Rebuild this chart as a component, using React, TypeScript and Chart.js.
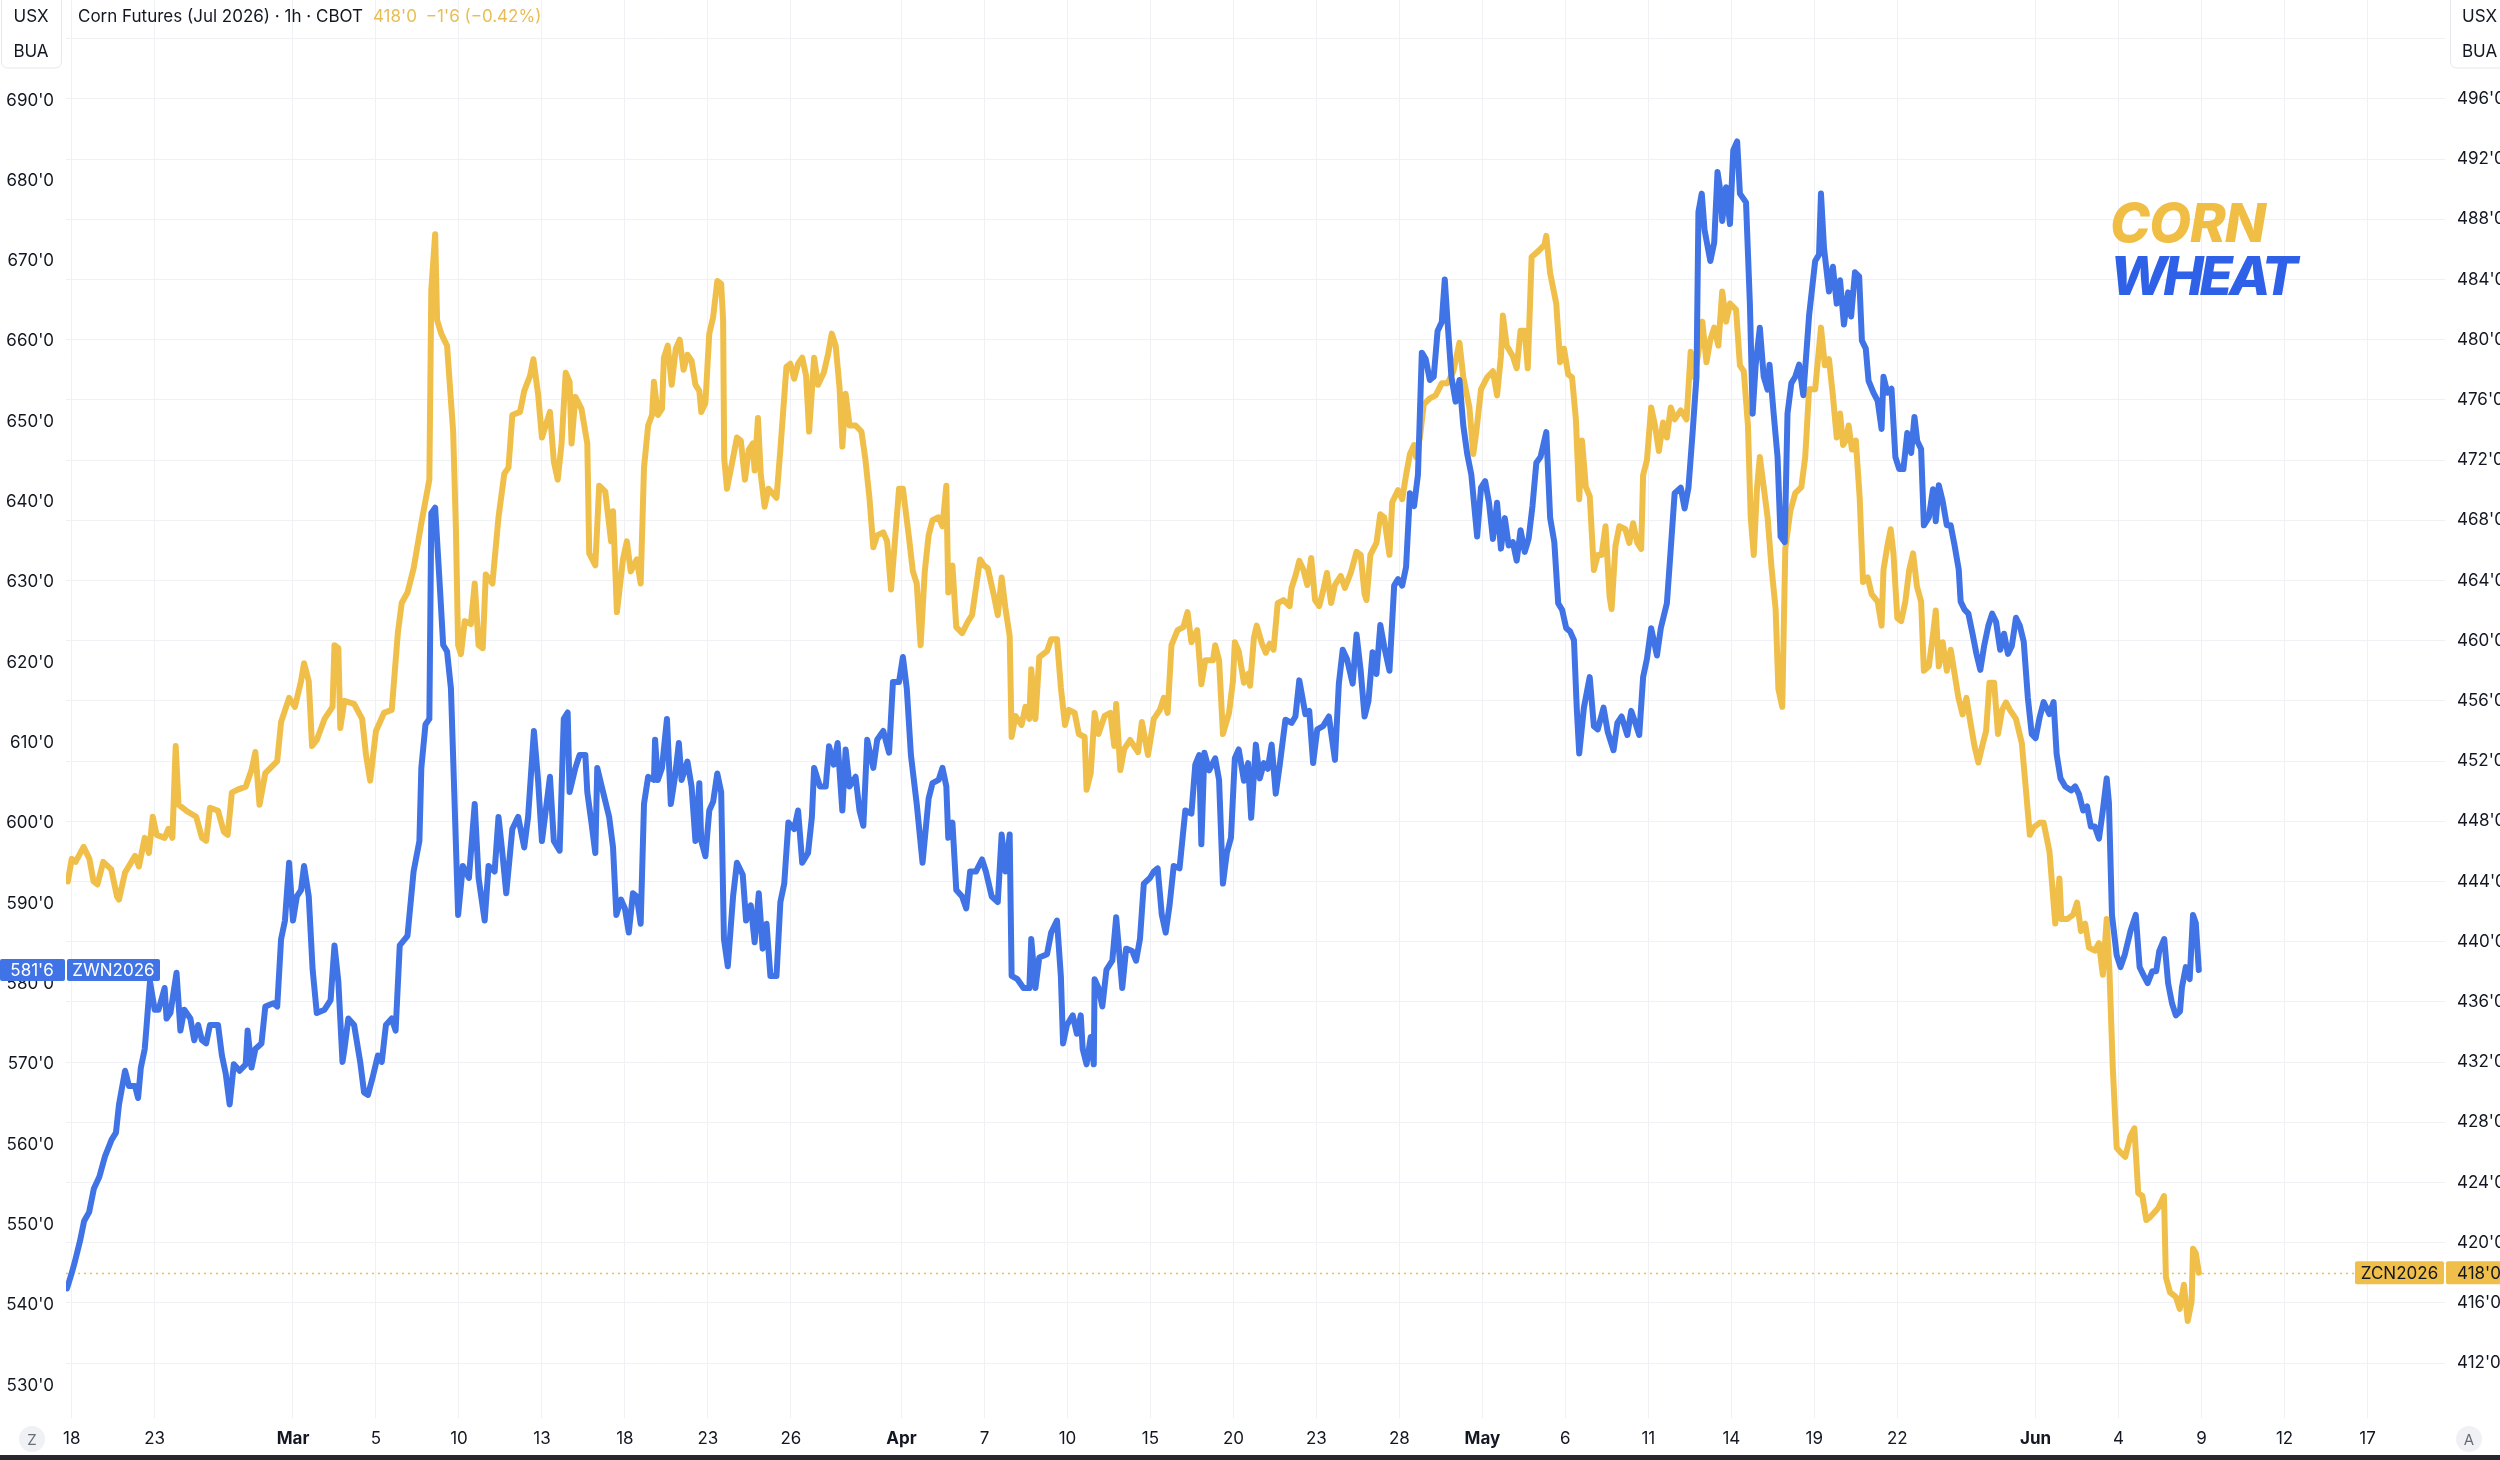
import React, { useEffect, useRef } from "react";
import { Chart, registerables } from "chart.js";

Chart.register(...registerables);

// ---------- DATA ----------
// x = trading-day index (Feb 18 2026 = 0, holidays/weekends removed)
const xTickDays = [0, 3, 8, 11, 14, 17, 20, 23, 26, 30, 33, 36, 39, 42, 45, 48, 51, 54, 57, 60, 63, 66, 71, 74, 77, 80, 83];
const xTickLabels = ["18", "23", "Mar", "5", "10", "13", "18", "23", "26", "Apr", "7", "10", "15", "20", "23", "28", "May", "6", "11", "14", "19", "22", "Jun", "4", "9", "12", "17"];
const monthTickDays = [8, 30, 51, 71];

const wheatTicks = [530, 540, 550, 560, 570, 580, 590, 600, 610, 620, 630, 640, 650, 660, 670, 680, 690, 700];
const cornTicks = [412, 416, 420, 424, 428, 432, 436, 440, 444, 448, 452, 456, 460, 464, 468, 472, 476, 480, 484, 488, 492, 496, 500];

const wheatDays = [
  -0.17, 0.0, 0.12, 0.3, 0.45, 0.63, 0.8, 1.0, 1.2, 1.44, 1.6,
  1.71, 1.93, 2.07, 2.29, 2.4, 2.5, 2.64, 2.71, 2.83, 3.0, 3.14, 3.36, 3.43, 3.57, 3.79, 3.93, 4.07, 4.29, 4.43, 4.57, 4.71, 4.86, 5.0, 5.29, 5.43, 5.57, 5.71, 5.86, 6.07, 6.29, 6.36, 6.5, 6.64, 6.86, 7.0, 7.29, 7.43, 7.57, 7.71, 7.86, 8.0, 8.14, 8.29, 8.4, 8.57, 8.71, 8.86, 9.14, 9.36, 9.5, 9.64, 9.79, 9.86, 10.0, 10.21, 10.43, 10.57, 10.71, 10.86, 11.07, 11.21, 11.36, 11.57, 11.71, 11.86, 12.14, 12.36, 12.57, 12.64, 12.79, 12.93, 13.0, 13.14, 13.29, 13.43, 13.57, 13.71, 13.83, 13.97, 14.14, 14.36, 14.57, 14.71, 14.93, 15.07, 15.29, 15.43, 15.57, 15.71, 15.93, 16.14, 16.36, 16.5, 16.71, 16.86, 17.0, 17.29, 17.43, 17.64, 17.79, 17.93, 18.0, 18.21, 18.36, 18.57, 18.64, 18.79, 18.93, 19.0, 19.21, 19.43, 19.57, 19.69, 19.86, 20.0, 20.14, 20.29, 20.43, 20.57,
  20.69, 20.84, 21.05, 21.09, 21.19, 21.34, 21.52, 21.66, 21.81, 21.95, 22.05, 22.26, 22.41, 22.55, 22.69, 22.76, 22.91, 23.05, 23.19, 23.34, 23.48, 23.58, 23.72, 23.91, 24.05, 24.26, 24.38, 24.55, 24.69, 24.84, 24.98, 25.12, 25.26, 25.48, 25.62, 25.76, 25.91, 26.12, 26.26, 26.41, 26.62, 26.76, 26.84, 27.05, 27.26, 27.38, 27.55, 27.69, 27.86, 27.98, 28.12, 28.34, 28.48, 28.62, 28.76, 28.98, 29.12, 29.34, 29.55, 29.69, 29.91, 30.05, 30.19, 30.34, 30.55, 30.76, 30.98, 31.12, 31.34, 31.48, 31.62, 31.69, 31.84, 31.98, 32.19, 32.34, 32.48, 32.69, 32.91, 33.05, 33.26, 33.48, 33.62, 33.76, 33.91, 33.98, 34.19, 34.41, 34.62, 34.69, 34.84, 34.98, 35.26, 35.41, 35.62, 35.76, 35.84, 35.98, 36.19, 36.34, 36.48, 36.55, 36.69, 36.84, 36.95, 36.98, 37.12, 37.26, 37.41, 37.62, 37.76, 37.98, 38.12, 38.34, 38.48, 38.62, 38.76, 38.98, 39.12, 39.26, 39.41, 39.55, 39.69, 39.84, 40.05, 40.26, 40.48, 40.62, 40.76, 40.84, 40.95, 41.12, 41.34, 41.48, 41.62, 41.76, 41.91, 42.05, 42.19,
  42.38, 42.53, 42.64, 42.81, 42.95, 43.1, 43.24, 43.38, 43.53, 43.67, 43.88, 44.1, 44.24, 44.38, 44.6, 44.74, 44.88, 45.03, 45.24, 45.45, 45.67, 45.81, 45.95, 46.1, 46.31, 46.45, 46.6, 46.74, 46.88, 47.03, 47.17, 47.31, 47.45, 47.64, 47.81, 47.95, 48.1, 48.24, 48.38, 48.53, 48.67, 48.81, 48.95, 49.1, 49.24, 49.38, 49.53, 49.64, 49.74, 49.88, 50.03, 50.17, 50.31, 50.45, 50.6, 50.81, 50.95, 51.1, 51.24, 51.38, 51.53, 51.67, 51.81, 51.95, 52.1, 52.24, 52.38, 52.53, 52.67, 52.81, 52.95, 53.1, 53.31, 53.45, 53.6, 53.74, 53.88, 54.03, 54.17, 54.31, 54.41, 54.5, 54.67, 54.88, 55.03, 55.17, 55.38, 55.53, 55.74, 55.88, 56.03, 56.24, 56.38, 56.53, 56.67, 56.81, 56.95, 57.1, 57.31, 57.45, 57.67, 57.81, 57.95, 58.17, 58.31, 58.45, 58.6, 58.74, 58.81, 58.93, 59.03, 59.24, 59.38, 59.5, 59.6, 59.67, 59.81, 59.95, 60.07, 60.21, 60.31, 60.53, 60.67, 60.77, 60.88, 61.03, 61.17, 61.31, 61.38, 61.53, 61.67, 61.78, 61.93, 62.03, 62.17, 62.31, 62.45, 62.6, 62.81, 63.03, 63.17, 63.24, 63.35, 63.53, 63.67, 63.81,
  63.93, 64.07, 64.22, 64.33, 64.47, 64.62, 64.72, 64.86, 64.96, 65.14, 65.29, 65.43, 65.5, 65.64, 65.79, 65.93, 66.07, 66.22, 66.36, 66.5, 66.62, 66.72, 66.86, 66.96, 67.14, 67.29, 67.39, 67.5, 67.64, 67.79, 67.93, 68.07, 68.22, 68.29, 68.43, 68.57, 68.72, 68.86, 69.0, 69.14, 69.29, 69.43, 69.57, 69.72, 69.86, 70.0, 70.14, 70.29, 70.43, 70.57, 70.72, 70.86, 71.0, 71.14, 71.29, 71.5, 71.65, 71.76, 71.9, 72.07, 72.29, 72.43, 72.57, 72.72, 72.86, 73.0, 73.14, 73.29, 73.43, 73.57, 73.65, 73.76, 73.93, 74.07, 74.22, 74.43, 74.62, 74.76, 74.9, 75.05, 75.22, 75.36, 75.47, 75.65, 75.79, 75.93, 76.07, 76.22, 76.29, 76.43, 76.57, 76.69, 76.79, 76.9,
];
const wheatPrices = [
  542.1, 544.0, 545.5, 548.0, 550.5, 551.6, 554.5, 556.0, 558.5, 560.6, 561.5,
  565.0, 569.2, 567.3, 567.3, 565.8, 569.6, 571.9, 574.9, 580.3, 576.8, 576.8, 579.5, 575.7, 576.4, 581.4, 574.2, 576.8, 575.7, 573.0, 574.9, 573.0, 572.6, 574.9, 574.9, 571.1, 568.8, 565.0, 570.0, 569.2, 570.0, 574.2, 569.6, 571.9, 572.6, 577.2, 577.6, 577.2, 585.6, 587.9, 595.1, 587.9, 590.9, 591.7, 594.7, 590.9, 581.8, 576.4, 576.8, 578.0, 584.8, 580.3, 570.3, 571.9, 575.7, 574.9, 570.3, 566.5, 566.2, 568.1, 571.1, 570.3, 574.9, 575.7, 574.2, 584.8, 586.0, 594.0, 597.8, 606.9, 612.3, 613.0, 638.6, 639.3, 630.6, 622.2, 621.4, 616.8, 603.9, 588.6, 594.7, 593.2, 602.4, 593.2, 587.9, 594.7, 594.0, 600.8, 596.3, 591.3, 599.3, 600.8, 597.0, 600.8, 611.5, 605.4, 597.8, 605.8, 597.8, 596.6, 613.0, 613.8, 603.9, 606.9, 608.5, 608.5, 603.9, 600.1, 596.3, 606.9, 603.9, 600.8, 597.0, 588.6, 590.5, 589.4, 586.4, 591.3, 590.9, 587.5,
  602.4, 605.8, 605.4, 610.4, 605.4, 606.9, 613.0, 602.4, 605.8, 610.0, 605.4, 607.7, 604.6, 597.8, 605.0, 597.8, 595.9, 601.6, 602.7, 606.2, 603.9, 585.6, 582.2, 590.9, 595.1, 593.6, 587.9, 589.8, 585.2, 591.3, 584.4, 587.5, 581.0, 581.0, 590.2, 592.5, 600.1, 599.3, 601.6, 595.1, 596.3, 600.8, 606.9, 604.6, 604.6, 609.6, 607.3, 610.0, 601.6, 609.2, 604.6, 605.8, 601.6, 599.7, 610.4, 606.9, 610.4, 611.5, 608.8, 617.6, 617.6, 620.7, 616.8, 608.5, 602.4, 595.1, 603.1, 605.0, 605.4, 606.9, 604.6, 598.2, 600.1, 591.7, 590.9, 589.4, 594.0, 594.0, 595.5, 594.0, 590.9, 590.2, 598.6, 594.0, 598.6, 581.0, 580.6, 579.5, 579.5, 585.6, 579.5, 583.3, 583.7, 586.4, 587.9, 581.0, 572.6, 574.9, 576.1, 573.8, 576.1, 571.9, 570.0, 573.4, 570.0, 580.6, 579.5, 577.2, 581.8, 582.9, 588.3, 579.5, 584.4, 584.1, 582.9, 585.6, 592.5, 593.2, 594.0, 594.4, 588.6, 586.4, 589.8, 594.7, 594.4, 601.6, 601.2, 607.3, 608.5, 597.4, 608.8, 606.6, 608.1, 605.4, 592.5, 596.3, 598.2, 608.1, 609.2,
  605.3, 607.5, 600.7, 609.8, 605.6, 607.5, 606.8, 609.8, 603.7, 607.2, 612.9, 612.5, 613.3, 617.8, 613.6, 614.0, 607.5, 611.7, 612.1, 613.3, 607.9, 617.4, 621.6, 620.5, 617.4, 623.5, 619.0, 613.3, 615.2, 621.3, 618.6, 624.7, 622.0, 619.0, 629.6, 630.4, 629.6, 631.9, 641.1, 639.5, 643.4, 658.6, 657.8, 655.2, 655.6, 661.3, 662.4, 667.7, 662.4, 655.6, 652.5, 655.2, 649.5, 646.0, 643.4, 635.7, 641.8, 642.6, 639.9, 635.4, 639.9, 634.2, 638.0, 634.6, 635.0, 632.7, 636.5, 633.8, 635.4, 639.5, 644.9, 645.6, 648.7, 638.0, 635.0, 627.4, 626.6, 624.3, 623.9, 622.8, 614.4, 608.7, 614.4, 618.2, 612.1, 611.7, 614.4, 611.4, 609.1, 612.5, 613.3, 611.0, 614.0, 612.5, 611.0, 618.2, 620.5, 624.3, 620.9, 624.3, 627.4, 634.2, 641.1, 641.8, 639.2, 641.8, 648.7, 655.6, 676.1, 678.4, 673.9, 670.0, 672.3, 681.1, 678.8, 675.0, 679.2, 674.6, 683.8, 684.9, 678.4, 677.3, 664.7, 651.0, 657.1, 661.7, 655.6, 654.0, 657.1, 651.0, 645.6, 635.7, 635.0, 651.0, 654.8, 655.6, 657.1, 653.3, 663.2, 670.0, 670.8, 678.4, 671.6, 666.2, 669.3, 664.7,
  667.6, 662.1, 666.1, 663.1, 668.6, 668.1, 660.1, 659.1, 655.1, 653.6, 652.6, 649.1, 655.6, 653.6, 654.1, 645.6, 644.1, 644.1, 648.6, 646.1, 650.6, 647.6, 646.6, 637.1, 638.1, 641.6, 637.6, 642.1, 640.1, 637.1, 637.1, 634.6, 631.6, 627.6, 626.6, 626.1, 623.6, 621.1, 619.1, 622.1, 624.6, 626.1, 625.1, 621.6, 623.6, 621.1, 622.1, 625.6, 624.6, 622.6, 615.6, 611.1, 610.6, 613.1, 615.1, 613.6, 615.1, 608.6, 605.6, 604.6, 604.1, 604.6, 603.6, 601.6, 602.1, 599.6, 599.6, 598.1, 601.6, 605.6, 602.6, 588.6, 583.6, 582.1, 583.6, 586.6, 588.6, 582.1, 581.1, 580.1, 581.6, 581.6, 584.1, 585.6, 580.1, 577.6, 576.1, 576.6, 579.6, 582.1, 580.6, 588.6, 587.6, 581.75,
];

const cornDays = [
  -0.14, 0.0, 0.14, 0.43, 0.64, 0.79, 0.93, 1.14, 1.43, 1.64, 1.71, 1.93, 2.29, 2.43, 2.64, 2.79, 2.93, 3.07, 3.36, 3.5, 3.64, 3.76, 3.86, 4.14, 4.5, 4.71, 4.86, 5.0, 5.29, 5.5, 5.64, 5.79, 6.0, 6.29, 6.5, 6.64, 6.79, 7.0, 7.43, 7.57, 7.86, 8.07, 8.29, 8.4, 8.57, 8.69, 8.86, 9.14, 9.43, 9.5, 9.64, 9.71, 9.86, 10.21, 10.5, 10.64, 10.79, 11.0, 11.29, 11.57, 11.79, 11.93, 12.14, 12.36, 12.64, 12.93, 13.0, 13.14, 13.21, 13.36, 13.57, 13.79, 13.89, 13.97, 14.07, 14.21, 14.43, 14.57, 14.71, 14.86, 14.97, 15.21, 15.43, 15.64, 15.79, 15.93, 16.21, 16.36, 16.57, 16.69, 16.86, 17.0, 17.29, 17.43, 17.57, 17.71, 17.86, 18.0, 18.07, 18.21, 18.43, 18.64, 18.71, 18.93, 19.07, 19.29, 19.5, 19.57, 19.71, 19.93, 20.07, 20.21, 20.43, 20.57,
  20.69, 20.84, 20.98, 21.05, 21.19, 21.34, 21.41, 21.55, 21.69, 21.84, 21.98, 22.12, 22.26, 22.41, 22.55, 22.69, 22.76, 22.91, 23.05, 23.19, 23.34, 23.48, 23.55, 23.59, 23.69, 23.84, 24.05, 24.19, 24.34, 24.48, 24.62, 24.69, 24.81, 24.91, 25.05, 25.19, 25.48, 25.62, 25.84, 25.98, 26.12, 26.26, 26.41, 26.55, 26.66, 26.84, 26.98, 27.19, 27.34, 27.48, 27.62, 27.76, 27.86, 27.98, 28.12, 28.34, 28.55, 28.69, 28.84, 28.98, 29.12, 29.34, 29.48, 29.62, 29.76, 29.91, 30.05, 30.26, 30.41, 30.55, 30.69, 30.84, 30.98, 31.12, 31.34, 31.48, 31.62, 31.69, 31.84, 31.98, 32.19, 32.41, 32.55, 32.84, 32.98, 33.12, 33.34, 33.48, 33.62, 33.76, 33.91, 33.98, 34.12, 34.34, 34.48, 34.62, 34.69, 34.84, 34.98, 35.26, 35.41, 35.62, 35.76, 35.91, 36.05, 36.26, 36.41, 36.62, 36.69, 36.84, 36.98, 37.12, 37.34, 37.55, 37.69, 37.76, 37.91, 38.05, 38.26, 38.55, 38.69, 38.91, 39.12, 39.34, 39.48, 39.62, 39.76, 39.98, 40.19, 40.34, 40.48, 40.69, 40.84, 40.98, 41.26, 41.34, 41.48, 41.62, 41.84, 41.98, 42.05, 42.19,
  42.38, 42.53, 42.6, 42.74, 42.84, 43.03, 43.17, 43.31, 43.45, 43.6, 43.81, 44.03, 44.1, 44.24, 44.38, 44.53, 44.67, 44.81, 44.95, 45.1, 45.24, 45.38, 45.53, 45.67, 45.88, 46.03, 46.24, 46.45, 46.6, 46.74, 46.81, 46.95, 47.17, 47.31, 47.45, 47.64, 47.74, 47.95, 48.1, 48.24, 48.38, 48.53, 48.6, 48.74, 48.88, 49.1, 49.31, 49.53, 49.74, 49.95, 50.17, 50.31, 50.53, 50.67, 50.78, 50.95, 51.17, 51.38, 51.53, 51.67, 51.74, 51.88, 52.1, 52.24, 52.38, 52.53, 52.64, 52.78, 53.03, 53.24, 53.31, 53.45, 53.67, 53.81, 53.95, 54.1, 54.24, 54.38, 54.5, 54.6, 54.74, 54.88, 55.03, 55.17, 55.31, 55.45, 55.6, 55.67, 55.81, 55.95, 56.17, 56.31, 56.45, 56.6, 56.74, 56.81, 56.95, 57.1, 57.24, 57.38, 57.53, 57.67, 57.81, 57.95, 58.17, 58.38, 58.53, 58.67, 58.81, 58.95, 59.1, 59.24, 59.38, 59.53, 59.67, 59.81, 59.95, 60.17, 60.31, 60.45, 60.6, 60.7, 60.81, 60.93, 61.03, 61.17, 61.31, 61.45, 61.6, 61.7, 61.84, 61.95, 62.13, 62.31, 62.53, 62.67, 62.81, 63.03, 63.24, 63.38, 63.53, 63.67, 63.81,
  63.93, 64.04, 64.14, 64.24, 64.36, 64.5, 64.64, 64.76, 64.93, 65.07, 65.29, 65.43, 65.5, 65.64, 65.76, 65.86, 66.0, 66.14, 66.29, 66.43, 66.57, 66.71, 66.86, 66.96, 67.14, 67.29, 67.39, 67.5, 67.64, 67.79, 67.93, 68.07, 68.21, 68.36, 68.5, 68.64, 68.79, 68.93, 69.07, 69.21, 69.33, 69.5, 69.64, 69.79, 69.93, 70.07, 70.29, 70.5, 70.64, 70.79, 70.93, 71.14, 71.29, 71.5, 71.71, 71.86, 71.93, 72.14, 72.36, 72.5, 72.64, 72.79, 72.93, 73.14, 73.29, 73.43, 73.57, 73.67, 73.79, 73.93, 74.07, 74.24, 74.43, 74.57, 74.71, 74.86, 75.0, 75.14, 75.29, 75.43, 75.64, 75.71, 75.86, 76.07, 76.21, 76.36, 76.5, 76.64, 76.69, 76.79, 76.9,
];
const cornPrices = [
  444.0, 445.5, 445.3, 446.3, 445.5, 444.0, 443.8, 445.3, 444.8, 443.0, 442.8, 444.6, 445.7, 445.0, 446.9, 445.9, 448.3, 447.1, 446.9, 447.5, 446.9, 453.0, 449.1, 448.7, 448.3, 446.9, 446.7, 448.9, 448.7, 447.3, 447.1, 449.9, 450.1, 450.3, 451.4, 452.6, 449.1, 451.2, 452.0, 454.6, 456.2, 455.6, 457.3, 458.5, 457.3, 453.0, 453.4, 454.8, 455.6, 459.7, 459.5, 454.2, 456.0, 455.8, 454.8, 452.4, 450.7, 454.0, 455.2, 455.4, 460.5, 462.5, 463.2, 464.8, 467.8, 470.7, 483.3, 487.0, 481.3, 480.4, 479.6, 473.9, 467.4, 459.7, 459.1, 461.3, 461.1, 463.8, 459.7, 459.5, 464.4, 463.8, 468.2, 471.1, 471.5, 475.0, 475.2, 476.6, 477.6, 478.7, 476.4, 473.5, 475.2, 471.9, 470.7, 473.1, 477.8, 477.2, 473.1, 476.2, 475.4, 473.1, 465.8, 465.0, 470.3, 469.9, 466.6, 468.6, 461.9, 465.4, 466.6, 464.6, 465.4, 463.8,
  471.5, 474.3, 475.0, 477.2, 475.0, 475.4, 478.8, 479.6, 477.0, 479.4, 480.0, 478.0, 479.0, 478.6, 477.0, 476.6, 475.2, 475.8, 480.4, 481.5, 483.9, 483.7, 481.3, 472.1, 470.1, 471.5, 473.5, 473.3, 470.7, 472.7, 473.1, 471.3, 474.8, 471.1, 468.9, 470.1, 469.5, 472.7, 478.2, 478.4, 477.4, 478.4, 478.8, 477.6, 473.9, 478.8, 477.0, 477.8, 479.0, 480.4, 479.6, 476.8, 472.9, 476.4, 474.3, 474.3, 473.9, 472.1, 469.5, 466.2, 467.0, 467.2, 466.6, 463.4, 466.6, 470.1, 470.1, 467.0, 464.6, 463.8, 459.7, 464.6, 467.0, 468.0, 468.2, 467.6, 470.3, 463.2, 465.0, 460.9, 460.5, 461.3, 461.7, 465.4, 465.0, 464.8, 463.0, 461.7, 464.2, 462.1, 460.3, 453.6, 455.0, 454.4, 455.6, 454.8, 458.1, 454.8, 458.9, 459.3, 460.1, 460.1, 456.9, 454.4, 455.4, 455.2, 453.8, 453.6, 450.1, 451.2, 455.2, 453.8, 455.0, 455.2, 453.0, 455.8, 451.4, 452.8, 453.4, 452.6, 454.6, 452.4, 454.8, 455.4, 456.2, 455.2, 459.7, 460.7, 460.9, 461.9, 459.9, 460.7, 457.1, 458.7, 458.7, 459.7, 458.7, 453.8, 455.2, 457.3, 459.9, 459.3,
  457.2, 457.8, 457.0, 460.2, 461.0, 459.8, 459.2, 459.8, 459.4, 462.5, 462.7, 462.3, 463.5, 464.3, 465.3, 464.7, 463.7, 465.5, 462.7, 462.3, 463.3, 464.5, 462.5, 463.7, 464.3, 463.5, 464.5, 465.9, 465.7, 463.1, 462.7, 465.7, 466.5, 468.4, 468.2, 465.7, 469.2, 470.0, 469.4, 471.0, 472.4, 473.0, 472.2, 473.5, 475.7, 476.1, 476.3, 477.1, 477.1, 477.9, 479.8, 477.5, 475.5, 472.4, 473.9, 476.7, 477.5, 477.9, 476.3, 478.9, 481.6, 479.6, 478.9, 478.1, 480.6, 480.6, 478.1, 485.5, 485.9, 486.3, 486.9, 484.4, 482.4, 478.5, 479.4, 477.7, 477.5, 474.7, 469.4, 473.3, 470.2, 469.6, 464.7, 465.7, 465.7, 467.6, 462.9, 462.1, 466.3, 467.6, 467.4, 466.5, 467.8, 466.5, 466.1, 471.0, 472.0, 475.5, 474.3, 472.6, 474.5, 473.5, 475.5, 474.7, 475.3, 474.7, 479.2, 477.5, 479.2, 481.2, 478.5, 480.0, 480.8, 479.6, 483.2, 481.2, 482.4, 482.0, 478.3, 477.9, 474.3, 468.2, 465.7, 470.2, 472.2, 470.2, 468.2, 464.9, 462.1, 456.8, 455.6, 466.1, 468.6, 469.8, 470.2, 472.2, 476.7, 476.7, 480.8, 478.3, 478.7, 476.3, 473.5,
  475.1, 473.0, 473.3, 474.3, 472.7, 473.3, 469.5, 463.9, 464.2, 463.1, 462.6, 461.0, 464.7, 466.3, 467.4, 465.8, 461.5, 461.3, 462.6, 464.7, 465.8, 463.6, 462.6, 458.0, 458.3, 460.4, 462.0, 458.3, 459.9, 458.0, 459.4, 457.8, 456.2, 455.1, 456.2, 454.6, 453.0, 451.9, 453.0, 454.0, 457.2, 457.2, 453.8, 455.4, 455.9, 455.4, 454.8, 453.2, 450.3, 447.1, 447.6, 447.9, 447.9, 446.0, 441.2, 444.2, 441.5, 441.5, 441.8, 442.6, 440.7, 441.2, 439.6, 439.4, 439.9, 437.8, 441.5, 438.0, 431.6, 426.3, 426.0, 425.7, 427.1, 427.6, 423.3, 423.1, 421.5, 421.7, 422.0, 422.3, 423.1, 417.7, 416.7, 416.4, 415.6, 417.2, 414.8, 416.1, 419.6, 419.3, 418.0,
];

const wheatLastLabel = "581'6";
const cornLastLabel = "418'0";
const wheatSymbol = "ZWN2026";
const cornSymbol = "ZCN2026";
const headerTitle = "Corn Futures (Jul 2026) · 1h · CBOT";
const headerPrice = "418'0";
const headerChange = "−1'6 (−0.42%)";

// ---------- STYLE ----------
const W = 2500;
const H = 1460;
const FONT = "Inter, 'Noto Sans', Roboto, sans-serif";
const WHEAT_COLOR = "#4073e6";
const CORN_COLOR = "#f0bf4a";
const TEXT = "#131722";
const GRID = "#f0f1f4";

const X_MIN = -0.206;
const X_MAX = 85.8;
const WHEAT_MIN = 525.97;
const WHEAT_MAX = 702.5;
const CORN_MIN = 408.35;
const CORN_MAX = 502.57;

function fmtPrice(v: number) {
  return `${v}'0`;
}

const overlayPlugin = {
  id: "overlay",
  beforeDatasetsDraw(chart: any) {
    const ctx = chart.ctx as CanvasRenderingContext2D;
    const ys = chart.scales.yCorn;
    const y = Math.round(ys.getPixelForValue(cornPrices[cornPrices.length - 1])) + 0.5;
    ctx.save();
    ctx.strokeStyle = CORN_COLOR;
    ctx.lineWidth = 1.5;
    ctx.setLineDash([2, 4]);
    ctx.beginPath();
    ctx.moveTo(chart.chartArea.left, y);
    ctx.lineTo(2355, y);
    ctx.stroke();
    ctx.restore();
  },
  afterDraw(chart: any) {
    const ctx = chart.ctx as CanvasRenderingContext2D;
    ctx.save();
    ctx.textBaseline = "middle";

    // header
    ctx.font = `17px ${FONT}`;
    ctx.fillStyle = TEXT;
    ctx.textAlign = "left";
    ctx.fillText(headerTitle, 78, 17);
    let x = 78 + ctx.measureText(headerTitle).width + 10;
    ctx.fillStyle = "#e9bd55";
    ctx.fillText(headerPrice, x, 17);
    x += ctx.measureText(headerPrice).width + 9;
    ctx.fillText(headerChange, x, 17);

    // unit boxes
    const box = (bx: number, bw: number) => {
      ctx.beginPath();
      (ctx as any).roundRect(bx, -8, bw, 76, 6);
      ctx.fillStyle = "#ffffff";
      ctx.fill();
      ctx.strokeStyle = "#e6e8ee";
      ctx.lineWidth = 1;
      ctx.stroke();
    };
    box(1.5, 60);
    box(2450.5, 70);
    ctx.fillStyle = TEXT;
    ctx.font = `17px ${FONT}`;
    ctx.textAlign = "center";
    ctx.fillText("USX", 31, 17);
    ctx.fillText("BUA", 31, 52);
    ctx.textAlign = "left";
    ctx.fillText("USX", 2462, 17);
    ctx.fillText("BUA", 2462, 52);

    // CORN / WHEAT title
    ctx.textBaseline = "alphabetic";
    ctx.font = `italic 800 54px ${FONT}`;
    (ctx as any).letterSpacing = "-1px";
    ctx.fillStyle = "#f0bd45";
    ctx.fillText("CORN", 2110, 242);
    (ctx as any).letterSpacing = "-4px";
    ctx.fillStyle = "#2f61e8";
    ctx.fillText("WHEAT", 2110, 295);
    (ctx as any).letterSpacing = "0px";
    ctx.textBaseline = "middle";

    // wheat last-price label
    const yw = chart.scales.yWheat.getPixelForValue(wheatPrices[wheatPrices.length - 1]);
    ctx.fillStyle = WHEAT_COLOR;
    ctx.beginPath();
    (ctx as any).roundRect(0, yw - 11, 65, 22, 2);
    ctx.fill();
    ctx.beginPath();
    (ctx as any).roundRect(67, yw - 11, 93, 22, 2);
    ctx.fill();
    ctx.fillStyle = "#ffffff";
    ctx.font = `17px ${FONT}`;
    ctx.textAlign = "center";
    ctx.fillText(wheatLastLabel, 32, yw + 1);
    ctx.fillText(wheatSymbol, 113.5, yw + 1);

    // corn last-price label
    const yc = chart.scales.yCorn.getPixelForValue(cornPrices[cornPrices.length - 1]);
    ctx.fillStyle = CORN_COLOR;
    ctx.beginPath();
    (ctx as any).roundRect(2355, yc - 11.5, 89, 23, 2);
    ctx.fill();
    ctx.beginPath();
    (ctx as any).roundRect(2446, yc - 11.5, 60, 23, 2);
    ctx.fill();
    ctx.fillStyle = TEXT;
    ctx.textAlign = "center";
    ctx.fillText(cornSymbol, 2399.5, yc + 1);
    ctx.textAlign = "left";
    ctx.fillText(cornLastLabel, 2457, yc + 1);

    // bottom corner buttons
    ctx.fillStyle = "#f0f1f4";
    ctx.beginPath();
    ctx.arc(32, 1439, 13, 0, Math.PI * 2);
    ctx.fill();
    ctx.beginPath();
    ctx.arc(2469, 1439, 13, 0, Math.PI * 2);
    ctx.fill();
    ctx.fillStyle = "#6a6d78";
    ctx.font = `15px ${FONT}`;
    ctx.textAlign = "center";
    ctx.fillText("Z", 32, 1440);
    ctx.fillText("A", 2469, 1440);

    // bottom dark strip
    ctx.fillStyle = "#26282d";
    ctx.fillRect(0, 1455, W, 5);
    ctx.restore();
  },
};

export default function App() {
  const ref = useRef<HTMLCanvasElement | null>(null);

  useEffect(() => {
    document.body.style.margin = "0";
    document.body.style.overflow = "hidden";
    const canvas = ref.current;
    if (!canvas) return;
    const chart = new Chart(canvas, {
      type: "line",
      data: {
        datasets: [
          {
            label: wheatSymbol,
            data: wheatDays.map((d, i) => ({ x: d, y: wheatPrices[i] })),
            yAxisID: "yWheat",
            borderColor: WHEAT_COLOR,
            borderWidth: 6,
            pointRadius: 0,
            tension: 0,
            borderJoinStyle: "round",
            borderCapStyle: "round",
            fill: false,
          },
          {
            label: cornSymbol,
            data: cornDays.map((d, i) => ({ x: d, y: cornPrices[i] })),
            yAxisID: "yCorn",
            borderColor: CORN_COLOR,
            borderWidth: 6,
            pointRadius: 0,
            tension: 0,
            borderJoinStyle: "round",
            borderCapStyle: "round",
            fill: false,
          },
        ],
      },
      options: {
        animation: false,
        responsive: false,
        devicePixelRatio: 1,
        events: [],
        layout: { padding: 0 },
        plugins: { legend: { display: false }, tooltip: { enabled: false } },
        scales: {
          x: {
            type: "linear",
            position: "bottom",
            min: X_MIN,
            max: X_MAX,
            afterBuildTicks: (s: any) => {
              s.ticks = xTickDays.map((v) => ({ value: v }));
            },
            afterFit: (s: any) => {
              s.height = 42;
              s.paddingLeft = 0;
              s.paddingRight = 0;
            },
            ticks: {
              autoSkip: false,
              maxRotation: 0,
              minRotation: 0,
              padding: 11,
              color: TEXT,
              font: (c: any) => ({
                family: FONT,
                size: 17,
                weight: c.tick && monthTickDays.includes(c.tick.value) ? "bold" : "normal",
              }),
              callback: (_v: any, i: number) => xTickLabels[i],
            },
            grid: { color: GRID, lineWidth: 1, drawTicks: false },
            border: { display: false },
          },
          yWheat: {
            type: "linear",
            position: "left",
            min: WHEAT_MIN,
            max: WHEAT_MAX,
            afterBuildTicks: (s: any) => {
              s.ticks = wheatTicks.map((v) => ({ value: v }));
            },
            afterFit: (s: any) => {
              s.width = 66;
              s.paddingTop = 0;
              s.paddingBottom = 0;
            },
            ticks: {
              padding: 12,
              color: TEXT,
              font: { family: FONT, size: 17 },
              callback: (v: any) => fmtPrice(v),
            },
            grid: { display: false, drawTicks: false },
            border: { display: false },
          },
          yCorn: {
            type: "linear",
            position: "right",
            min: CORN_MIN,
            max: CORN_MAX,
            afterBuildTicks: (s: any) => {
              s.ticks = cornTicks.map((v) => ({ value: v }));
            },
            afterFit: (s: any) => {
              s.width = 55;
              s.paddingTop = 0;
              s.paddingBottom = 0;
            },
            ticks: {
              padding: 12,
              color: TEXT,
              crossAlign: "near",
              font: { family: FONT, size: 17 },
              callback: (v: any) => fmtPrice(v),
            },
            grid: { color: GRID, lineWidth: 1, drawTicks: false },
            border: { display: false },
          },
        },
      } as any,
      plugins: [overlayPlugin],
    });
    return () => chart.destroy();
  }, []);

  return (
    <div style={{ position: "absolute", left: 0, top: 0, width: W, height: H, background: "#ffffff" }}>
      <canvas ref={ref} width={W} height={H} style={{ display: "block", width: W, height: H }} />
    </div>
  );
}
